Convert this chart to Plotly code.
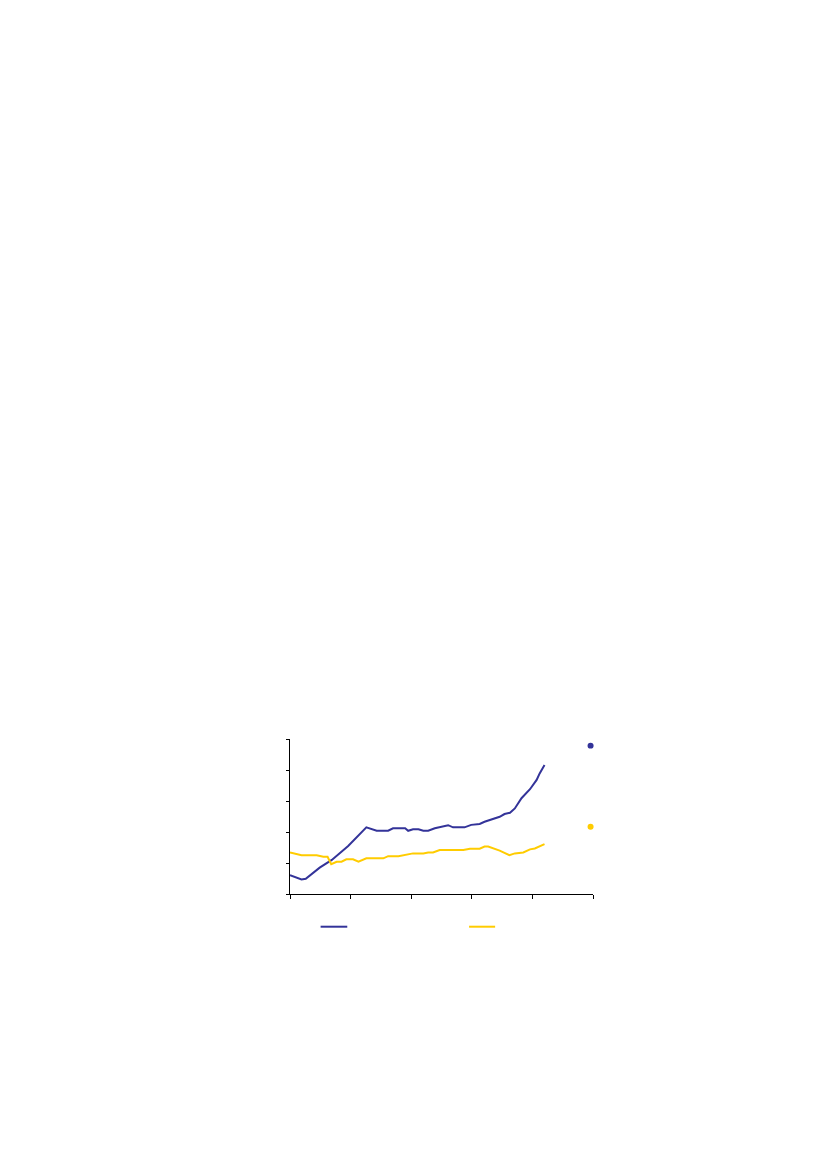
import plotly.graph_objects as go

# series (x in axis units 0..5, y in axis units 0..5)
blue_x = [0, 0.19, 0.26, 0.49, 0.69, 0.96, 1.26, 1.43, 1.62, 1.70, 1.90, 1.95, 2.03, 2.12,
          2.20, 2.28, 2.39, 2.61, 2.69, 2.88, 2.99, 3.13, 3.21, 3.32, 3.46, 3.54, 3.63,
          3.71, 3.82, 3.96, 4.07, 4.12, 4.20]
blue_y = [0.61, 0.47, 0.49, 0.85, 1.10, 1.55, 2.15, 2.04, 2.04, 2.12, 2.12, 2.04, 2.09, 2.09,
          2.04, 2.04, 2.12, 2.22, 2.15, 2.15, 2.23, 2.26, 2.33, 2.39, 2.49, 2.58, 2.62,
          2.76, 3.09, 3.38, 3.68, 3.89, 4.16]

yellow_x = [0, 0.19, 0.44, 0.55, 0.62, 0.68, 0.77, 0.85, 0.93, 1.04, 1.13, 1.26, 1.54, 1.62,
            1.79, 1.87, 1.95, 2.03, 2.20, 2.28, 2.36, 2.47, 2.86, 2.97, 3.13, 3.21, 3.27,
            3.46, 3.62, 3.71, 3.85, 3.96, 4.04, 4.20]
yellow_y = [1.34, 1.25, 1.25, 1.20, 1.20, 0.96, 1.04, 1.04, 1.12, 1.12, 1.04, 1.15, 1.15, 1.22,
            1.22, 1.25, 1.26, 1.31, 1.31, 1.34, 1.34, 1.42, 1.42, 1.46, 1.46, 1.53, 1.53,
            1.40, 1.25, 1.31, 1.34, 1.44, 1.47, 1.61]

BLUE = '#333399'
YELLOW = '#ffcc00'

fig = go.Figure()
fig.add_trace(go.Scatter(x=blue_x, y=blue_y, mode='lines',
                         line=dict(color=BLUE, width=2), showlegend=False))
fig.add_trace(go.Scatter(x=yellow_x, y=yellow_y, mode='lines',
                         line=dict(color=YELLOW, width=2), showlegend=False))

# legend swatches below the plot and the dots at the right
shapes = [
    dict(type='line', xref='paper', yref='paper', x0=0.101, x1=0.189, y0=-0.211, y1=-0.211,
         line=dict(color=BLUE, width=2)),
    dict(type='line', xref='paper', yref='paper', x0=0.591, x1=0.677, y0=-0.211, y1=-0.211,
         line=dict(color=YELLOW, width=2)),
]
for yc, col in [(0.957, BLUE), (0.434, YELLOW)]:
    shapes.append(dict(type='circle', xref='paper', yref='paper',
                       x0=0.982, x1=1.002, y0=yc - 0.019, y1=yc + 0.019,
                       fillcolor=col, line=dict(width=0)))

axis = dict(range=[0, 5], dtick=1, tick0=0, showgrid=False, zeroline=False,
            showline=True, linecolor='black', linewidth=1, ticks='outside',
            tickcolor='black', tickwidth=1, showticklabels=False)

fig.update_layout(
    width=810, height=1153,
    margin=dict(l=282, r=225, t=731, b=267),
    paper_bgcolor='white', plot_bgcolor='white',
    xaxis=dict(axis, ticklen=4),
    yaxis=dict(axis, ticklen=3),
    shapes=shapes,
)

fig.write_html("out.html")
